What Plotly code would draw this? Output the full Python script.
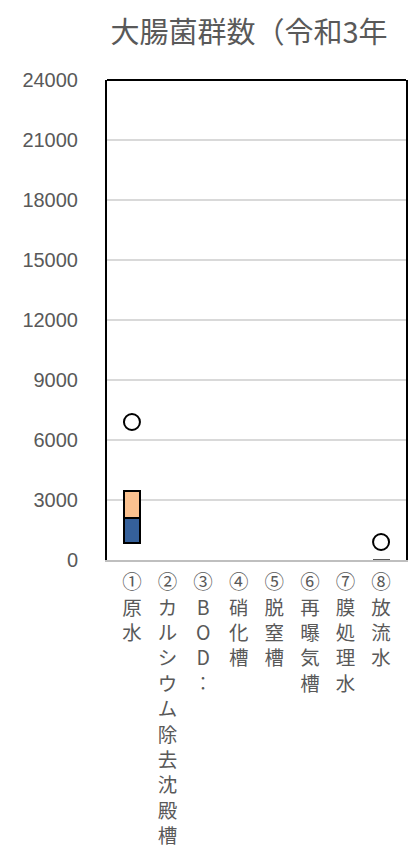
import plotly.graph_objects as go

# Sampling points along the treatment line
categories = ["①原水", "②カルシウム除去沈殿槽", "③BOD‥", "④硝化槽",
              "⑤脱窒槽", "⑥再曝気槽", "⑦膜処理水", "⑧放流水"]

# Box segments (stacked): invisible base (minimum), lower box, upper box
box_base = [850, None, None, None, None, None, None, 0]
box_lower = [1250, None, None, None, None, None, None, 10]
box_upper = [1350, None, None, None, None, None, None, 10]
# Maximum values shown as open circles
max_values = [6900, None, None, None, None, None, None, 900]

y_ticks = [0, 3000, 6000, 9000, 12000, 15000, 18000, 21000, 24000]
title_text = "大腸菌群数（令和3年"

VERTICAL_FORMS = {"‥": "︰", "…": "︙"}


def vertical(label):
    return "<br>".join(VERTICAL_FORMS.get(ch, ch) for ch in label)


edge_widths = [2, 2, 2, 2, 2, 2, 2, 1]
edge_colors = ["#000000"] * 7 + ["#595959"]

fig = go.Figure()
fig.add_trace(go.Bar(x=categories, y=box_base, width=0.45,
                     marker=dict(color="rgba(0,0,0,0)", line=dict(width=0)),
                     hoverinfo="skip", showlegend=False))
fig.add_trace(go.Bar(x=categories, y=box_lower, width=0.45,
                     marker=dict(color="#35609a",
                                 line=dict(color=edge_colors, width=edge_widths)),
                     showlegend=False))
fig.add_trace(go.Bar(x=categories, y=box_upper, width=0.45,
                     marker=dict(color="#fbc18f",
                                 line=dict(color=edge_colors, width=edge_widths)),
                     showlegend=False))
fig.add_trace(go.Scatter(x=categories, y=max_values, mode="markers",
                         marker=dict(symbol="circle-open", size=16, color="#000000",
                                     line=dict(width=2)),
                         showlegend=False))

fig.update_layout(
    width=420, height=854,
    barmode="stack",
    paper_bgcolor="#ffffff", plot_bgcolor="#ffffff",
    margin=dict(l=107, r=14, t=80, b=294, autoexpand=False),
    title=dict(text=title_text, x=249 / 420, xanchor="center", xref="container",
               y=1 - 33 / 854, yanchor="middle", yref="container",
               font=dict(family="Noto Sans CJK JP", size=29, color="#595959")),
    xaxis=dict(
        tickmode="array", tickvals=categories,
        ticktext=[vertical(c) for c in categories],
        tickangle=0, ticks="", showgrid=False, automargin=False,
        showline=True, linecolor="#bfbfbf", linewidth=2,
        tickfont=dict(family="Noto Sans CJK JP", size=19.5, color="#595959"),
        ticklabelstandoff=4,
    ),
    yaxis=dict(
        range=[0, 24000], tickmode="array", tickvals=y_ticks,
        ticktext=[str(v) for v in y_ticks],
        showgrid=True, gridcolor="#d9d9d9", gridwidth=1.5,
        showline=True, linecolor="#000000", linewidth=2, mirror=True,
        zeroline=False, ticks="", automargin=False,
        tickfont=dict(family="Liberation Sans", size=20, color="#595959"),
        ticklabelstandoff=23,
    ),
    shapes=[dict(type="line", xref="paper", yref="paper", x0=0, x1=1, y0=1, y1=1,
                 line=dict(color="#000000", width=2))],
)

fig.write_html("out.html")
